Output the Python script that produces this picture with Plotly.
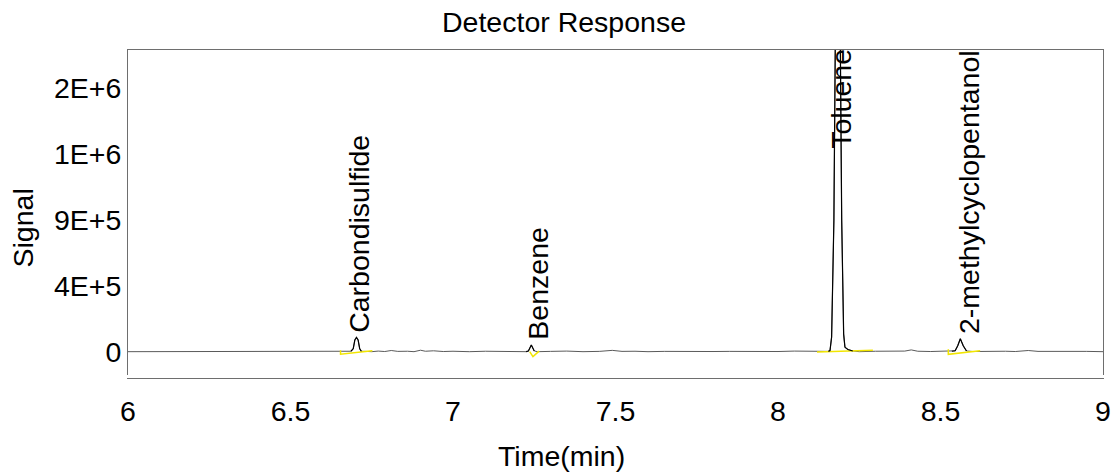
import plotly.graph_objects as go

# ---- data ----
time_min = [6.00, 6.20, 6.40, 6.55, 6.575, 6.59, 6.61, 6.63, 6.65, 6.675,
            6.686, 6.693, 6.698, 6.703, 6.708, 6.713, 6.718, 6.73, 6.75, 6.77,
            6.79, 6.81, 6.83, 6.86, 6.88, 6.90, 6.915, 6.94, 6.97, 7.00,
            7.05, 7.10, 7.15, 7.20, 7.225, 7.232, 7.241, 7.250, 7.26, 7.30,
            7.35, 7.40, 7.45, 7.49, 7.52, 7.56, 7.60, 7.65, 7.70, 7.75,
            7.80, 7.85, 7.90, 7.95, 8.00, 8.05, 8.10, 8.14, 8.155, 8.160,
            8.165, 8.172, 8.178, 8.184, 8.190, 8.196, 8.202, 8.206, 8.215, 8.230,
            8.25, 8.30, 8.35, 8.39, 8.41, 8.43, 8.47, 8.51, 8.535, 8.545,
            8.553, 8.561, 8.570, 8.580, 8.60, 8.63, 8.66, 8.70, 8.73, 8.77,
            8.80, 8.85, 8.90, 8.95, 9.00]
signal = [0, 0, 1000, 0, 4000, 2000, 5000, 0, 1500, 3000,
          3000, 20000, 80000, 98000, 80000, 20000, 3000, 2000, 0, 4000,
          1000, 8000, 2000, 3000, 0, 10000, 3000, 6000, 1000, 3000,
          0, 3000, 1000, 2000, 0, 5000, 46000, 5000, 0, 2000,
          4000, 0, 2000, 9000, 2000, 3000, 0, 2000, 0, 3000,
          1000, 2000, 0, 2000, 1000, 4000, 1000, 0, 2000, 8000,
          100000, 900000, 2600000, 3500000, 2600000, 900000, 120000, 30000, 15000, 5000,
          0, 3000, 1000, 4000, 12000, 3000, 1000, 2000, 3000, 6000,
          40000, 88000, 40000, 5000, 1000, 3000, 0, 3000, 1000, 8000,
          2000, 3000, 0, 2000, 0]

peak_names = ["Carbondisulfide", "Benzene", "Toluene", "2-methylcyclopentanol"]
peak_apex_signal = [98000, 46000, 3500000, 88000]
label_time = [6.703, 7.253, 8.184, 8.579]
peak_start = [6.680, 7.225, 8.150, 8.535]
peak_end = [6.725, 7.255, 8.235, 8.590]

# integration baselines (yellow)
base_t = [[6.654, 6.654, 6.752], [7.236, 7.246, 7.265], [8.120, 8.292], [8.524, 8.524, 8.622]]
base_v = [[10000, -17000, 6000], [0, -34000, 4000], [-2000, 9000], [16000, -18000, 7000]]

y_tickvals = [0, 450000, 900000, 1350000, 1800000]
y_ticktext = ["0", "4E+5", "9E+5", "1E+6", "2E+6"]
y_minorvals = [225000, 675000, 1125000, 1575000, 2025000]
x_tickvals = [6, 6.5, 7, 7.5, 8, 8.5, 9]
x_ticktext = ["6", "6.5", "7", "7.5", "8", "8.5", "9"]

Y_MIN, Y_MAX = -180000, 2063000
FONT = "Liberation Sans, Arial, sans-serif"
FS = 28.5

fig = go.Figure()

fig.add_trace(go.Scatter(x=time_min, y=signal, mode="lines",
                         line=dict(color="#5a5a5a", width=1), hoverinfo="skip",
                         showlegend=False))

for bt, bv in zip(base_t, base_v):
    fig.add_trace(go.Scatter(x=bt, y=bv, mode="lines",
                             line=dict(color="#f2e600", width=1.5),
                             showlegend=False, hoverinfo="skip"))

for s, e in zip(peak_start, peak_end):
    px = [t for t in time_min if s <= t <= e]
    py = [v for t, v in zip(time_min, signal) if s <= t <= e]
    fig.add_trace(go.Scatter(x=px, y=py, mode="lines",
                             line=dict(color="black", width=1.2),
                             showlegend=False))

annotations = []
for name, t, v in zip(peak_names, label_time, peak_apex_signal):
    top = v > Y_MAX
    annotations.append(dict(x=t, y=Y_MAX if top else v, xref="x", yref="y", text=name,
                            textangle=-90, showarrow=False, xanchor="center",
                            yanchor="top" if top else "bottom", xshift=3, yshift=3,
                            font=dict(family=FONT, size=FS, color="black")))

L, R, T, B = 128, 11, 50, 95
W, H = 1114, 473
pw, ph = W - L - R, H - T - B

annotations.append(dict(x=(561 - L) / pw, y=(H - B - 456) / ph, xref="paper", yref="paper",
                        text="Time(min)", showarrow=False, xanchor="center", yanchor="middle",
                        font=dict(family=FONT, size=FS, color="black")))
annotations.append(dict(x=(22.5 - L) / pw, y=(H - B - 228) / ph, xref="paper", yref="paper",
                        text="Signal", textangle=-90, showarrow=False,
                        xanchor="center", yanchor="middle",
                        font=dict(family=FONT, size=FS, color="black")))

fig.update_layout(
    width=W, height=H,
    margin=dict(l=L, r=R, t=T, b=B, autoexpand=False),
    paper_bgcolor="white", plot_bgcolor="white",
    title=dict(text="Detector Response", x=564 / W, xref="container", xanchor="center",
               y=1 - 22 / H, yref="container", yanchor="middle",
               font=dict(family=FONT, size=FS, color="black")),
    annotations=annotations,
    font=dict(family=FONT, size=FS, color="black"),
    xaxis=dict(range=[6, 9], tickvals=x_tickvals, ticktext=x_ticktext,
               showgrid=False, zeroline=False, showline=True, linecolor="#6e6e6e",
               linewidth=1, mirror=True, ticks="outside", ticklen=8, tickcolor="white",
               tickfont=dict(family=FONT, size=FS, color="black"),
               minor=dict(tick0=6, dtick=1 / 6, ticks="inside", ticklen=3,
                          tickwidth=2, tickcolor="white", showgrid=False)),
    yaxis=dict(range=[Y_MIN, Y_MAX], tickvals=y_tickvals, ticktext=y_ticktext,
               showgrid=False, zeroline=False, showline=True, linecolor="#6e6e6e",
               linewidth=1, mirror=True, ticks="",
               tickfont=dict(family=FONT, size=FS, color="black"),
               minor=dict(tickvals=y_minorvals, ticks="inside", ticklen=3,
                          tickwidth=2, tickcolor="white", showgrid=False)),
)

fig.write_html("out.html", config={"displayModeBar": False},
               post_script="document.body.style.margin='0';document.body.style.overflow='hidden';")
